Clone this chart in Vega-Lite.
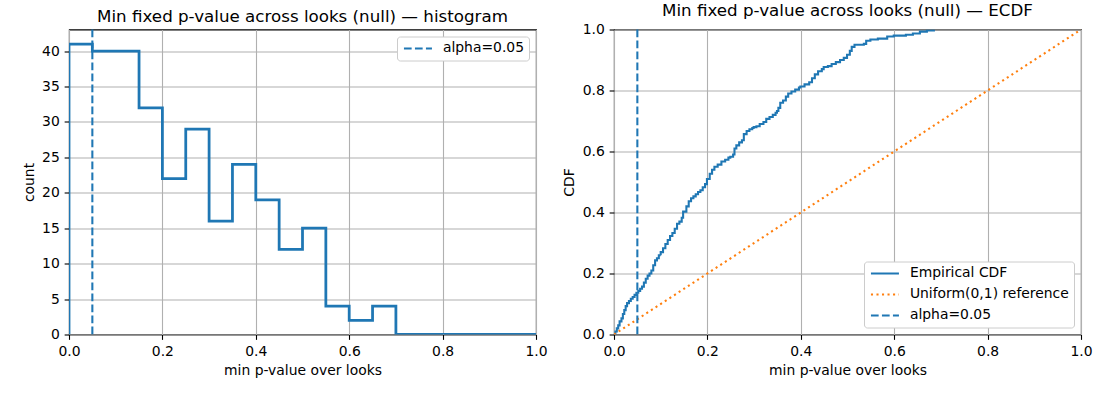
{
  "$schema": "https://vega.github.io/schema/vega-lite/v6.json",
  "background": "white",
  "padding": {"left": 21, "top": 1.5, "right": 5, "bottom": 5},
  "bounds": "flush",
  "spacing": 78,
  "config": {
    "font": "DejaVu Sans",
    "view": {"stroke": "black", "strokeWidth": 1.1},
    "axis": {
      "domain": false,
      "tickColor": "black", "tickWidth": 1.1, "tickSize": 4.86,
      "gridColor": "#b0b0b0", "gridWidth": 1.1, "gridOpacity": 1,
      "labelFontSize": 13.9, "labelColor": "black", "labelPadding": 4.86,
      "labelFlush": false, "labelOverlap": false,
      "titleFontSize": 13.9, "titleFontWeight": "normal", "titleColor": "black", "titlePadding": 5.6
    },
    "title": {"fontSize": 16.7, "fontWeight": "normal", "color": "black", "baseline": "bottom", "offset": 2.8, "anchor": "middle"},
    "legend": {
      "fillColor": "white", "strokeColor": "#cccccc", "cornerRadius": 3, "padding": 5,
      "labelFontSize": 13.9, "labelColor": "black", "labelOffset": 27,
      "symbolType": "M-1,0H4.6", "symbolSize": 100, "symbolStrokeWidth": 2.08,
      "rowPadding": 6, "offset": 7
    }
  },
  "resolve": {"scale": {"color": "independent", "strokeDash": "independent"}, "legend": {"color": "independent", "strokeDash": "independent"}},
  "hconcat": [
    {
      "width": 467, "height": 305,
      "title": "Min fixed p-value across looks (null) — histogram",
      "layer": [
        {
          "data": {"values": [
            {"edge": 0.0, "count": 0},
            {"edge": 0.0, "count": 41},
            {"edge": 0.05, "count": 40},
            {"edge": 0.1, "count": 40},
            {"edge": 0.15, "count": 32},
            {"edge": 0.2, "count": 22},
            {"edge": 0.25, "count": 29},
            {"edge": 0.3, "count": 16},
            {"edge": 0.35, "count": 24},
            {"edge": 0.4, "count": 19},
            {"edge": 0.45, "count": 12},
            {"edge": 0.5, "count": 15},
            {"edge": 0.55, "count": 4},
            {"edge": 0.6, "count": 2},
            {"edge": 0.65, "count": 4},
            {"edge": 0.7, "count": 0},
            {"edge": 0.75, "count": 0},
            {"edge": 0.8, "count": 0},
            {"edge": 0.85, "count": 0},
            {"edge": 0.9, "count": 0},
            {"edge": 0.95, "count": 0},
            {"edge": 1.0, "count": 0}
          ]},
          "mark": {"type": "line", "interpolate": "step-after", "color": "#1f77b4", "strokeWidth": 2.78, "clip": true},
          "encoding": {
            "x": {"field": "edge", "type": "quantitative", "scale": {"domain": [0, 1], "nice": false}, "axis": {"values": [0, 0.2, 0.4, 0.6, 0.8, 1.0], "format": ".1f", "title": "min p-value over looks"}},
            "y": {"field": "count", "type": "quantitative", "scale": {"domain": [0, 43.05], "nice": false}, "axis": {"values": [0, 5, 10, 15, 20, 25, 30, 35, 40], "title": "count"}},
            "order": {"value": null}
          }
        },
        {
          "data": {"values": [{"p": 0.05, "series": "alpha=0.05"}]},
          "mark": {"type": "rule", "strokeWidth": 2.08},
          "encoding": {
            "x": {"field": "p", "type": "quantitative"},
            "color": {"field": "series", "type": "nominal", "scale": {"domain": ["alpha=0.05"], "range": ["#1f77b4"]}, "legend": {"title": null, "orient": "top-right"}},
            "strokeDash": {"field": "series", "type": "nominal", "scale": {"domain": ["alpha=0.05"], "range": [[7.7, 3.3]]}, "legend": {"title": null, "orient": "top-right"}}
          }
        }
      ]
    },
    {
      "width": 467, "height": 305,
      "title": "Min fixed p-value across looks (null) — ECDF",
      "layer": [
        {
          "data": {"values": [
            {"p": 0.000, "cdf": 0.000, "series": "Empirical CDF"},
            {"p": 0.003, "cdf": 0.010, "series": "Empirical CDF"},
            {"p": 0.006, "cdf": 0.020, "series": "Empirical CDF"},
            {"p": 0.009, "cdf": 0.030, "series": "Empirical CDF"},
            {"p": 0.012, "cdf": 0.043, "series": "Empirical CDF"},
            {"p": 0.016, "cdf": 0.053, "series": "Empirical CDF"},
            {"p": 0.019, "cdf": 0.067, "series": "Empirical CDF"},
            {"p": 0.022, "cdf": 0.080, "series": "Empirical CDF"},
            {"p": 0.025, "cdf": 0.093, "series": "Empirical CDF"},
            {"p": 0.028, "cdf": 0.103, "series": "Empirical CDF"},
            {"p": 0.032, "cdf": 0.110, "series": "Empirical CDF"},
            {"p": 0.036, "cdf": 0.117, "series": "Empirical CDF"},
            {"p": 0.040, "cdf": 0.123, "series": "Empirical CDF"},
            {"p": 0.044, "cdf": 0.130, "series": "Empirical CDF"},
            {"p": 0.048, "cdf": 0.137, "series": "Empirical CDF"},
            {"p": 0.052, "cdf": 0.143, "series": "Empirical CDF"},
            {"p": 0.056, "cdf": 0.150, "series": "Empirical CDF"},
            {"p": 0.060, "cdf": 0.157, "series": "Empirical CDF"},
            {"p": 0.064, "cdf": 0.170, "series": "Empirical CDF"},
            {"p": 0.068, "cdf": 0.183, "series": "Empirical CDF"},
            {"p": 0.072, "cdf": 0.193, "series": "Empirical CDF"},
            {"p": 0.076, "cdf": 0.200, "series": "Empirical CDF"},
            {"p": 0.080, "cdf": 0.210, "series": "Empirical CDF"},
            {"p": 0.084, "cdf": 0.227, "series": "Empirical CDF"},
            {"p": 0.088, "cdf": 0.243, "series": "Empirical CDF"},
            {"p": 0.092, "cdf": 0.250, "series": "Empirical CDF"},
            {"p": 0.096, "cdf": 0.260, "series": "Empirical CDF"},
            {"p": 0.100, "cdf": 0.270, "series": "Empirical CDF"},
            {"p": 0.105, "cdf": 0.283, "series": "Empirical CDF"},
            {"p": 0.110, "cdf": 0.297, "series": "Empirical CDF"},
            {"p": 0.115, "cdf": 0.310, "series": "Empirical CDF"},
            {"p": 0.120, "cdf": 0.323, "series": "Empirical CDF"},
            {"p": 0.125, "cdf": 0.333, "series": "Empirical CDF"},
            {"p": 0.130, "cdf": 0.347, "series": "Empirical CDF"},
            {"p": 0.135, "cdf": 0.363, "series": "Empirical CDF"},
            {"p": 0.140, "cdf": 0.370, "series": "Empirical CDF"},
            {"p": 0.145, "cdf": 0.383, "series": "Empirical CDF"},
            {"p": 0.148, "cdf": 0.403, "series": "Empirical CDF"},
            {"p": 0.155, "cdf": 0.420, "series": "Empirical CDF"},
            {"p": 0.160, "cdf": 0.437, "series": "Empirical CDF"},
            {"p": 0.165, "cdf": 0.447, "series": "Empirical CDF"},
            {"p": 0.170, "cdf": 0.453, "series": "Empirical CDF"},
            {"p": 0.175, "cdf": 0.460, "series": "Empirical CDF"},
            {"p": 0.180, "cdf": 0.467, "series": "Empirical CDF"},
            {"p": 0.185, "cdf": 0.473, "series": "Empirical CDF"},
            {"p": 0.190, "cdf": 0.483, "series": "Empirical CDF"},
            {"p": 0.195, "cdf": 0.493, "series": "Empirical CDF"},
            {"p": 0.199, "cdf": 0.510, "series": "Empirical CDF"},
            {"p": 0.205, "cdf": 0.527, "series": "Empirical CDF"},
            {"p": 0.210, "cdf": 0.540, "series": "Empirical CDF"},
            {"p": 0.215, "cdf": 0.550, "series": "Empirical CDF"},
            {"p": 0.222, "cdf": 0.557, "series": "Empirical CDF"},
            {"p": 0.230, "cdf": 0.567, "series": "Empirical CDF"},
            {"p": 0.238, "cdf": 0.573, "series": "Empirical CDF"},
            {"p": 0.245, "cdf": 0.580, "series": "Empirical CDF"},
            {"p": 0.249, "cdf": 0.583, "series": "Empirical CDF"},
            {"p": 0.255, "cdf": 0.590, "series": "Empirical CDF"},
            {"p": 0.258, "cdf": 0.610, "series": "Empirical CDF"},
            {"p": 0.262, "cdf": 0.620, "series": "Empirical CDF"},
            {"p": 0.268, "cdf": 0.630, "series": "Empirical CDF"},
            {"p": 0.274, "cdf": 0.637, "series": "Empirical CDF"},
            {"p": 0.278, "cdf": 0.657, "series": "Empirical CDF"},
            {"p": 0.284, "cdf": 0.667, "series": "Empirical CDF"},
            {"p": 0.290, "cdf": 0.673, "series": "Empirical CDF"},
            {"p": 0.296, "cdf": 0.677, "series": "Empirical CDF"},
            {"p": 0.299, "cdf": 0.680, "series": "Empirical CDF"},
            {"p": 0.305, "cdf": 0.683, "series": "Empirical CDF"},
            {"p": 0.312, "cdf": 0.690, "series": "Empirical CDF"},
            {"p": 0.320, "cdf": 0.697, "series": "Empirical CDF"},
            {"p": 0.326, "cdf": 0.707, "series": "Empirical CDF"},
            {"p": 0.333, "cdf": 0.713, "series": "Empirical CDF"},
            {"p": 0.340, "cdf": 0.720, "series": "Empirical CDF"},
            {"p": 0.346, "cdf": 0.727, "series": "Empirical CDF"},
            {"p": 0.349, "cdf": 0.733, "series": "Empirical CDF"},
            {"p": 0.352, "cdf": 0.743, "series": "Empirical CDF"},
            {"p": 0.356, "cdf": 0.760, "series": "Empirical CDF"},
            {"p": 0.362, "cdf": 0.767, "series": "Empirical CDF"},
            {"p": 0.368, "cdf": 0.780, "series": "Empirical CDF"},
            {"p": 0.373, "cdf": 0.790, "series": "Empirical CDF"},
            {"p": 0.380, "cdf": 0.797, "series": "Empirical CDF"},
            {"p": 0.388, "cdf": 0.803, "series": "Empirical CDF"},
            {"p": 0.396, "cdf": 0.810, "series": "Empirical CDF"},
            {"p": 0.399, "cdf": 0.813, "series": "Empirical CDF"},
            {"p": 0.408, "cdf": 0.820, "series": "Empirical CDF"},
            {"p": 0.418, "cdf": 0.827, "series": "Empirical CDF"},
            {"p": 0.424, "cdf": 0.840, "series": "Empirical CDF"},
            {"p": 0.430, "cdf": 0.853, "series": "Empirical CDF"},
            {"p": 0.437, "cdf": 0.863, "series": "Empirical CDF"},
            {"p": 0.445, "cdf": 0.870, "series": "Empirical CDF"},
            {"p": 0.449, "cdf": 0.877, "series": "Empirical CDF"},
            {"p": 0.458, "cdf": 0.880, "series": "Empirical CDF"},
            {"p": 0.466, "cdf": 0.887, "series": "Empirical CDF"},
            {"p": 0.475, "cdf": 0.893, "series": "Empirical CDF"},
            {"p": 0.484, "cdf": 0.900, "series": "Empirical CDF"},
            {"p": 0.492, "cdf": 0.907, "series": "Empirical CDF"},
            {"p": 0.499, "cdf": 0.917, "series": "Empirical CDF"},
            {"p": 0.505, "cdf": 0.930, "series": "Empirical CDF"},
            {"p": 0.509, "cdf": 0.943, "series": "Empirical CDF"},
            {"p": 0.515, "cdf": 0.950, "series": "Empirical CDF"},
            {"p": 0.535, "cdf": 0.953, "series": "Empirical CDF"},
            {"p": 0.540, "cdf": 0.963, "series": "Empirical CDF"},
            {"p": 0.549, "cdf": 0.967, "series": "Empirical CDF"},
            {"p": 0.565, "cdf": 0.970, "series": "Empirical CDF"},
            {"p": 0.585, "cdf": 0.977, "series": "Empirical CDF"},
            {"p": 0.599, "cdf": 0.980, "series": "Empirical CDF"},
            {"p": 0.625, "cdf": 0.983, "series": "Empirical CDF"},
            {"p": 0.640, "cdf": 0.987, "series": "Empirical CDF"},
            {"p": 0.655, "cdf": 0.993, "series": "Empirical CDF"},
            {"p": 0.670, "cdf": 0.997, "series": "Empirical CDF"},
            {"p": 0.685, "cdf": 1.000, "series": "Empirical CDF"}
          ]},
          "mark": {"type": "line", "interpolate": "step-after", "strokeWidth": 2.08, "clip": true},
          "encoding": {
            "x": {"field": "p", "type": "quantitative", "scale": {"domain": [0, 1], "nice": false}, "axis": {"values": [0, 0.2, 0.4, 0.6, 0.8, 1.0], "format": ".1f", "title": "min p-value over looks"}},
            "y": {"field": "cdf", "type": "quantitative", "scale": {"domain": [0, 1], "nice": false}, "axis": {"values": [0, 0.2, 0.4, 0.6, 0.8, 1.0], "format": ".1f", "title": "CDF"}},
            "color": {"field": "series", "type": "nominal", "scale": {"domain": ["Empirical CDF", "Uniform(0,1) reference", "alpha=0.05"], "range": ["#1f77b4", "#ff7f0e", "#1f77b4"]}, "legend": {"title": null, "orient": "bottom-right"}},
            "strokeDash": {"field": "series", "type": "nominal", "scale": {"domain": ["Empirical CDF", "Uniform(0,1) reference", "alpha=0.05"], "range": [[1, 0], [2.08, 3.44], [7.7, 3.3]]}, "legend": {"title": null, "orient": "bottom-right"}}
          }
        },
        {
          "data": {"values": [
            {"p": 0, "cdf": 0, "series": "Uniform(0,1) reference"},
            {"p": 1, "cdf": 1, "series": "Uniform(0,1) reference"}
          ]},
          "mark": {"type": "line", "strokeWidth": 2.08, "clip": true},
          "encoding": {
            "x": {"field": "p", "type": "quantitative"},
            "y": {"field": "cdf", "type": "quantitative"},
            "color": {"field": "series", "type": "nominal"},
            "strokeDash": {"field": "series", "type": "nominal"}
          }
        },
        {
          "data": {"values": [{"p": 0.05, "series": "alpha=0.05"}]},
          "mark": {"type": "rule", "strokeWidth": 2.08},
          "encoding": {
            "x": {"field": "p", "type": "quantitative"},
            "color": {"field": "series", "type": "nominal"},
            "strokeDash": {"field": "series", "type": "nominal"}
          }
        }
      ]
    }
  ]
}
